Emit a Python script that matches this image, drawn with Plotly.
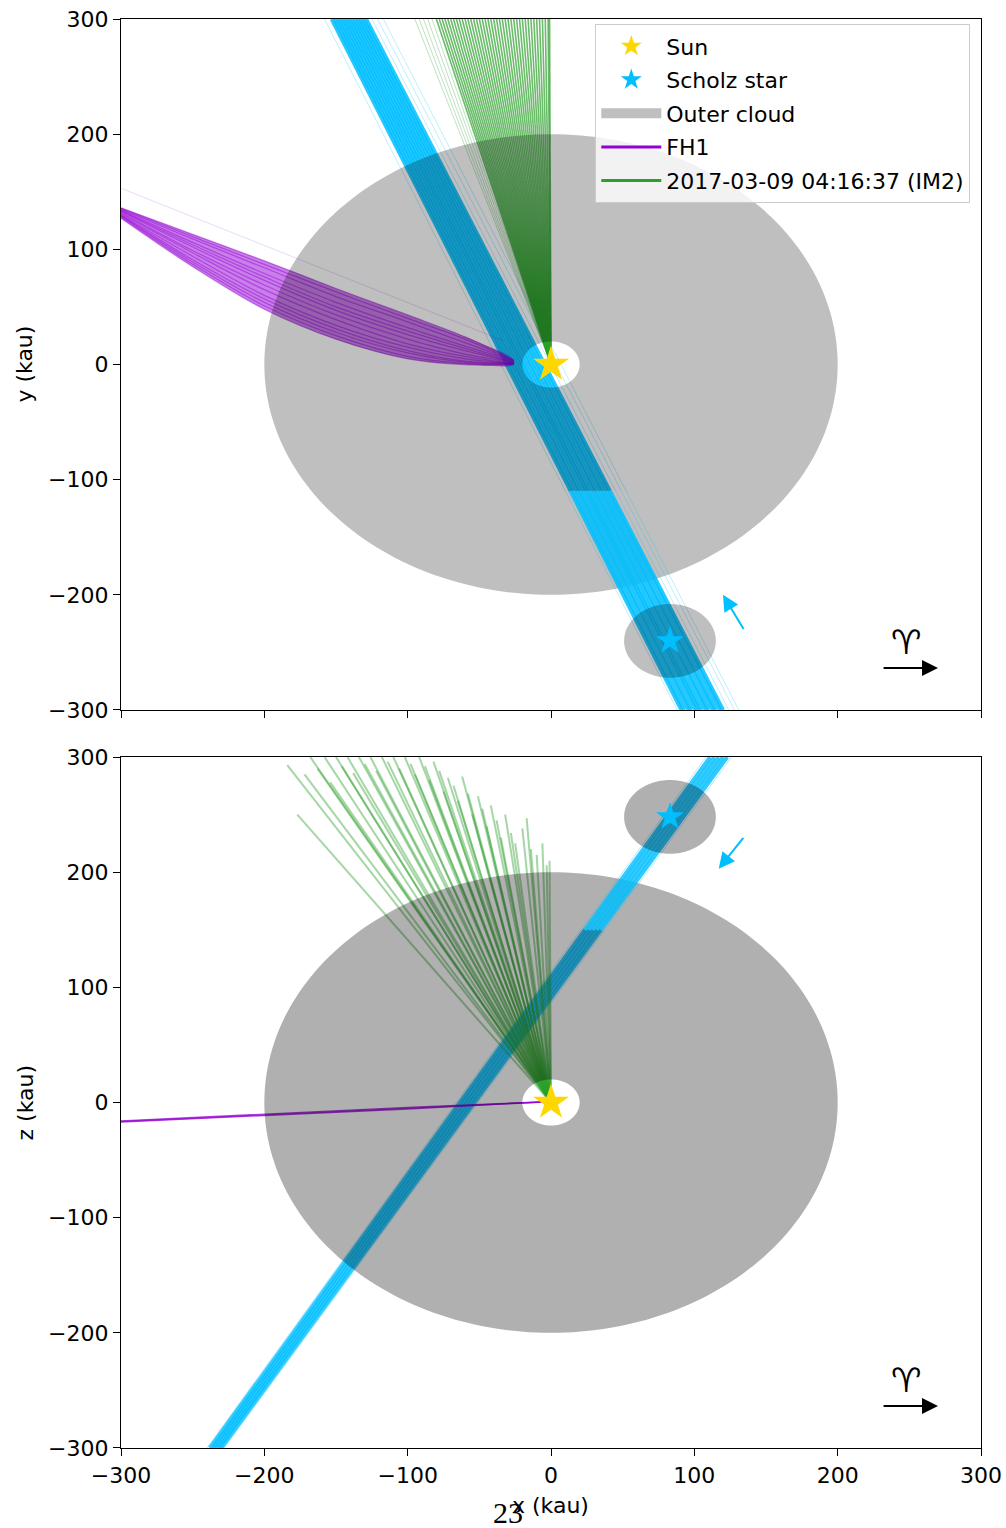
import numpy as np
import plotly.graph_objects as go

# ---------------- data (kau) ----------------
axis_ticks = [-300, -200, -100, 0, 100, 200, 300]
axis_range = [-300, 300]

sun_x, sun_y, sun_z = 0, 0, 0
scholz_x, scholz_y, scholz_z = 83, -240, 248

cloud_radius = 200
cloud_hole_radius = 20
scholz_cloud_radius = 32

# Scholz star track: x where each strand meets the panel edges
track_xy_x_at_top = [-153, -151, -149, -147, -145, -143, -141, -139, -137, -135, -133, -131, -129]
track_xy_x_at_bottom = [91, 93, 96, 98, 101, 103, 105, 108, 110, 113, 115, 118, 120]
track_xy_faint_x_at_top = [-158, -125, -121, -117]
track_xy_faint_x_at_bottom = [88, 124, 128, 131]
track_xy_front_below_y = -110

track_xz_x_at_bottom = [-238, -236, -234, -232, -230]
track_xz_x_at_top = [111, 114, 117, 120, 123]
track_xz_faint_x_at_bottom = [-240, -228]
track_xz_faint_x_at_top = [108, 126]
track_xz_front_above_z = 150

# IM2 clones (green): end points, lines start at the Sun
green_xy_sparse_end_x = [-95, -92, -89, -86, -83]
green_xy_end_x = [-80, -78, -76, -74, -72, -70, -68, -66, -64, -62, -60, -58, -56,
                  -54, -52, -50, -48, -46, -44, -42, -40, -38, -36, -34, -32, -30,
                  -28, -26, -24, -22, -20, -18, -16, -14, -12, -10, -8, -6, -4, -2, -1]
green_xy_end_y = 300

green_xz_end_x = [-184, -177, -172, -168, -163, -158, -154, -150, -146, -142, -138,
                  -134, -130, -126, -122, -118, -114, -110, -106, -102, -98, -95,
                  -92, -88, -85, -82, -78, -75, -72, -68, -65, -62, -58, -55, -51,
                  -48, -45, -42, -38, -35, -32, -28, -25, -20, -17, -14, -10, -6, -3, -1]
green_xz_end_z = [293, 250, 285, 300, 290, 300, 278, 300, 292, 300, 286, 300, 294,
                  300, 288, 300, 296, 300, 290, 300, 294, 285, 300, 292, 280, 296,
                  288, 270, 282, 275, 262, 283, 268, 250, 266, 255, 240, 258, 245,
                  230, 250, 234, 225, 238, 247, 220, 215, 225, 206, 210]

# FH1 clones (purple)
fh1_xy_x = [-300, -250, -200, -150, -100, -60, -26]
fh1_xy_curves_y = [
    [136, 113, 90, 66, 43, 24, 4],
    [135.5, 111, 87, 63, 40, 22, 3],
    [135, 109, 84, 59, 37, 19, 3],
    [134, 106, 79, 54, 32, 16, 3],
    [133.5, 104, 76, 50, 29, 14, 2],
    [133, 102, 73, 47, 26, 12, 2],
    [132, 99, 69, 43, 22, 9, 2],
    [131, 97, 65, 39, 18, 7, 1],
    [130, 94, 60, 34, 15, 5, 1],
    [129.5, 91, 57, 31, 12, 3, 1],
    [129, 89, 54, 28, 10, 2, 1],
    [128, 87, 51, 25, 7, 1, 0],
    [127, 85, 48, 22, 5, 0, 0],
]
fh1_xy_outlier_x = [-300, -34]
fh1_xy_outlier_y = [153, 21]

fh1_xz_x = [-300, -200, -100, -6]
fh1_xz_curves_z = [
    [-16.0, -10.0, -4.2, 0.5],
    [-16.5, -10.8, -5.0, 0.5],
    [-17.0, -11.5, -5.6, 0.5],
]

# direction arrows and Aries marker
motion_xy_tail = (135, -231)
motion_xy_head = (120, -200)
motion_xz_tail = (135, 231)
motion_xz_head = (117, 203)
aries_x, aries_y = 248, -241
aries_arrow_x = (231, 270)
aries_arrow_y = -263.5

# ---------------- styling ----------------
GOLD = "#ffd700"
SKY = "#00bfff"
GREEN = "#2ca02c"
VIOLET = "#9400d3"
FONT = "DejaVu Sans"
FS = 22

fig = go.Figure()
TOP = ("x", "y")
BOT = ("x2", "y2")


def add_line(xs, ys, color, width, opacity, ax, shape="linear"):
    fig.add_trace(go.Scatter(
        x=list(xs), y=list(ys), mode="lines",
        line=dict(color=color, width=width, shape=shape),
        opacity=opacity, showlegend=False, hoverinfo="skip",
        xaxis=ax[0], yaxis=ax[1]))


def add_disc(cx, cy, r_out, r_in, alpha, ax):
    th = np.linspace(0, 2 * np.pi, 241)
    xs = list(cx + r_out * np.cos(th))
    ys = list(cy + r_out * np.sin(th))
    if r_in:
        xs += [None] + list(cx + r_in * np.cos(th[::-1]))
        ys += [None] + list(cy + r_in * np.sin(th[::-1]))
    fig.add_trace(go.Scatter(
        x=xs, y=ys, mode="none", fill="toself",
        fillcolor=f"rgba(0,0,0,{alpha})", showlegend=False, hoverinfo="skip",
        xaxis=ax[0], yaxis=ax[1]))


def split_x(x_a, x_b, v_a, v_b, v_split):
    """x of a straight strand (x_a at v_a, x_b at v_b) at level v_split"""
    if v_a < v_b:
        return float(np.interp(v_split, [v_a, v_b], [x_a, x_b]))
    return float(np.interp(v_split, [v_b, v_a], [x_b, x_a]))


# ======== top panel (x-y) ========
Y0 = track_xy_front_below_y
for xt, xb in zip(track_xy_x_at_top, track_xy_x_at_bottom):
    add_line([xt, split_x(xt, xb, 300, -300, Y0)], [300, Y0], SKY, 4, 0.85, TOP)
for xt, xb in zip(track_xy_faint_x_at_top, track_xy_faint_x_at_bottom):
    add_line([xt, split_x(xt, xb, 300, -300, Y0)], [300, Y0], SKY, 1, 0.25, TOP)

for xe in green_xy_sparse_end_x:
    add_line([sun_x, xe], [sun_y, green_xy_end_y], GREEN, 1, 0.3, TOP)
for xe in green_xy_end_x:
    add_line([sun_x, xe], [sun_y, green_xy_end_y], GREEN, 1.6, 0.7, TOP)

# FH1 bundle
upper, lower = fh1_xy_curves_y[0], fh1_xy_curves_y[-1]
fig.add_trace(go.Scatter(
    x=fh1_xy_x + fh1_xy_x[::-1], y=upper + lower[::-1], mode="none",
    fill="toself", fillcolor=VIOLET, opacity=0.5, line=dict(shape="spline"),
    showlegend=False, hoverinfo="skip", xaxis="x", yaxis="y"))
for cy in fh1_xy_curves_y:
    add_line(fh1_xy_x, cy, VIOLET, 1.3, 0.45, TOP, shape="spline")
add_line(fh1_xy_outlier_x, fh1_xy_outlier_y, VIOLET, 1, 0.15, TOP)

add_disc(sun_x, sun_y, cloud_radius, cloud_hole_radius, 0.25, TOP)

for xt, xb in zip(track_xy_x_at_top, track_xy_x_at_bottom):
    add_line([split_x(xt, xb, 300, -300, Y0), xb], [Y0, -300], SKY, 4, 0.85, TOP)
for xt, xb in zip(track_xy_faint_x_at_top, track_xy_faint_x_at_bottom):
    add_line([split_x(xt, xb, 300, -300, Y0), xb], [Y0, -300], SKY, 1, 0.25, TOP)

add_disc(scholz_x, scholz_y, scholz_cloud_radius, 0, 0.25, TOP)

fig.add_trace(go.Scatter(x=[sun_x], y=[sun_y], mode="markers",
                         marker=dict(symbol="star", size=27, color=GOLD, line=dict(width=0)),
                         showlegend=False, hoverinfo="skip", xaxis="x", yaxis="y"))
fig.add_trace(go.Scatter(x=[scholz_x], y=[scholz_y], mode="markers",
                         marker=dict(symbol="star", size=21, color=SKY, line=dict(width=0)),
                         showlegend=False, hoverinfo="skip", xaxis="x", yaxis="y"))

# ======== bottom panel (x-z) ========
Z0 = track_xz_front_above_z
for xb, xt in zip(track_xz_x_at_bottom, track_xz_x_at_top):
    add_line([xb, split_x(xb, xt, -300, 300, Z0)], [-300, Z0], SKY, 4, 0.8, BOT)
for xb, xt in zip(track_xz_faint_x_at_bottom, track_xz_faint_x_at_top):
    add_line([xb, split_x(xb, xt, -300, 300, Z0)], [-300, Z0], SKY, 1, 0.3, BOT)

for xe, ze in zip(green_xz_end_x, green_xz_end_z):
    add_line([sun_x, xe], [sun_z, ze], GREEN, 2, 0.42, BOT)

for cz in fh1_xz_curves_z:
    add_line(fh1_xz_x, cz, VIOLET, 1.4, 0.7, BOT)

add_disc(sun_x, sun_z, cloud_radius, cloud_hole_radius, 0.31, BOT)

for xb, xt in zip(track_xz_x_at_bottom, track_xz_x_at_top):
    add_line([split_x(xb, xt, -300, 300, Z0), xt], [Z0, 300], SKY, 4, 0.8, BOT)
for xb, xt in zip(track_xz_faint_x_at_bottom, track_xz_faint_x_at_top):
    add_line([split_x(xb, xt, -300, 300, Z0), xt], [Z0, 300], SKY, 1, 0.3, BOT)

add_disc(scholz_x, scholz_z, scholz_cloud_radius, 0, 0.31, BOT)

fig.add_trace(go.Scatter(x=[sun_x], y=[sun_z], mode="markers",
                         marker=dict(symbol="star", size=27, color=GOLD, line=dict(width=0)),
                         showlegend=False, hoverinfo="skip", xaxis="x2", yaxis="y2"))
fig.add_trace(go.Scatter(x=[scholz_x], y=[scholz_z], mode="markers",
                         marker=dict(symbol="star", size=21, color=SKY, line=dict(width=0)),
                         showlegend=False, hoverinfo="skip", xaxis="x2", yaxis="y2"))

# ======== legend entries ========
leg = dict(xaxis="x", yaxis="y", hoverinfo="skip")
fig.add_trace(go.Scatter(x=[None], y=[None], mode="markers", name="Sun", legendgroup="a",
                         marker=dict(symbol="star", size=26, color=GOLD), **leg))
fig.add_trace(go.Scatter(x=[None], y=[None], mode="markers", name="Scholz star", legendgroup="b",
                         marker=dict(symbol="star", size=21, color=SKY), **leg))
fig.add_trace(go.Scatter(x=[None], y=[None], mode="lines", name="Outer cloud",
                         legendgroup="c", line=dict(color="rgba(0,0,0,0.25)", width=10), **leg))
fig.add_trace(go.Scatter(x=[None], y=[None], mode="lines", name="FH1", legendgroup="d",
                         line=dict(color=VIOLET, width=3), **leg))
fig.add_trace(go.Scatter(x=[None], y=[None], mode="lines", name="2017-03-09 04:16:37 (IM2)",
                         legendgroup="e", line=dict(color=GREEN, width=3), **leg))

# ======== annotations ========
ann = []
for (tail, head, xr, yr) in [(motion_xy_tail, motion_xy_head, "x", "y"),
                             (motion_xz_tail, motion_xz_head, "x2", "y2")]:
    ann.append(dict(x=head[0], y=head[1], ax=tail[0], ay=tail[1], xref=xr, yref=yr,
                    axref=xr, ayref=yr, text="", showarrow=True, arrowhead=2,
                    arrowsize=1.6, arrowwidth=2, arrowcolor=SKY))
for xr, yr in [("x", "y"), ("x2", "y2")]:
    ann.append(dict(x=aries_arrow_x[1], y=aries_arrow_y, ax=aries_arrow_x[0], ay=aries_arrow_y,
                    xref=xr, yref=yr, axref=xr, ayref=yr, text="", showarrow=True,
                    arrowhead=2, arrowsize=1.6, arrowwidth=2, arrowcolor="black"))
    ann.append(dict(x=aries_x, y=aries_y, xref=xr, yref=yr, text="\u2648", showarrow=False,
                    xanchor="center", yanchor="middle",
                    font=dict(family=FONT, size=34, color="black")))

lab = dict(xref="paper", yref="paper", showarrow=False, xanchor="center", yanchor="middle")
ann.append(dict(x=-0.1116, y=0.7582, text="y (kau)", textangle=-90,
                font=dict(family=FONT, size=FS, color="black"), **lab))
ann.append(dict(x=-0.1116, y=0.2418, text="z (kau)", textangle=-90,
                font=dict(family=FONT, size=FS, color="black"), **lab))
ann.append(dict(x=0.4994, y=-0.0399, text="x (kau)",
                font=dict(family=FONT, size=FS, color="black"), **lab))
ann.append(dict(x=0.45, y=-0.0451, text="23",
                font=dict(family="Liberation Serif", size=30, color="black"), **lab))

axis_common = dict(range=axis_range, autorange=False, tickvals=axis_ticks, ticks="outside",
                   ticklen=7, tickwidth=1.3, tickcolor="black", showline=True, mirror=True,
                   linecolor="black", linewidth=1.3, showgrid=False, zeroline=False,
                   automargin=False, ticklabeloverflow="allow",
                   tickfont=dict(family=FONT, size=FS, color="black"))

fig.update_layout(
    width=1006, height=1528,
    margin=dict(l=121, r=25, t=19, b=80),
    paper_bgcolor="white", plot_bgcolor="white",
    font=dict(family=FONT, size=FS, color="black"),
    xaxis=dict(domain=[0, 1], anchor="y", showticklabels=False, **axis_common),
    yaxis=dict(domain=[0.51645, 1], anchor="x", **axis_common),
    xaxis2=dict(domain=[0, 1], anchor="y2", showticklabels=True, **axis_common),
    yaxis2=dict(domain=[0, 0.48355], anchor="x2", **axis_common),
    legend=dict(x=0.9872, y=0.9965, xanchor="right", yanchor="top",
                bgcolor="rgba(255,255,255,0.8)", bordercolor="#cccccc", borderwidth=1.3,
                font=dict(family=FONT, size=FS, color="black"), itemwidth=60,
                tracegroupgap=2, traceorder="grouped"),
    annotations=ann,
    showlegend=True,
)

# remove the default page margin so the 1006x1528 figure fills the window exactly
fig.write_html("out.html",
               config={"displayModeBar": False},
               post_script="document.body.style.margin='0';"
                           "document.body.style.overflow='hidden';")
